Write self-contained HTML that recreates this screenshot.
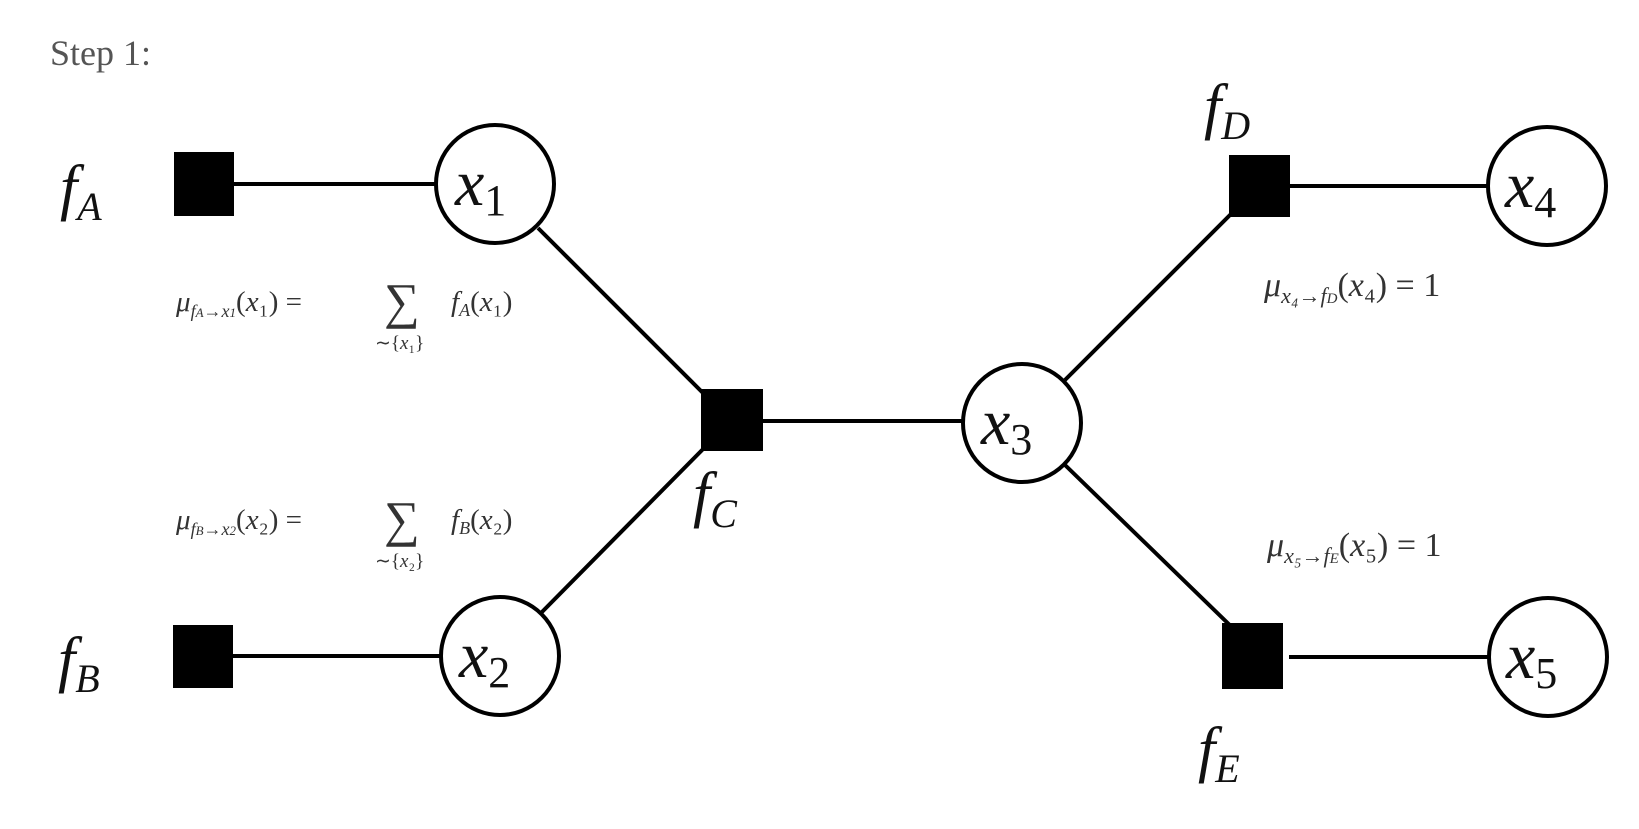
<!DOCTYPE html>
<html><head><style>
html,body{margin:0;padding:0;background:#fff;}
svg{display:block}
.m{font-family:"Liberation Serif",serif;font-style:italic;fill:#111}
.r{font-family:"Liberation Serif",serif;fill:#333}
</style></head><body>
<svg width="1639" height="829" viewBox="0 0 1639 829" xmlns="http://www.w3.org/2000/svg">
<text x="50" y="65" font-family="Liberation Serif, serif" font-size="36" fill="#555">Step 1:</text>
<g stroke="#000" stroke-width="4" fill="none">
<line x1="234" y1="184" x2="437" y2="184"/>
<line x1="233" y1="656" x2="440" y2="656"/>
<line x1="538" y1="228" x2="710" y2="400"/>
<line x1="540" y1="614" x2="712" y2="440"/>
<line x1="763" y1="421" x2="962" y2="421"/>
<line x1="1065" y1="380" x2="1240" y2="205"/>
<line x1="1065" y1="465" x2="1240" y2="635"/>
<line x1="1290" y1="186" x2="1489" y2="186"/>
<line x1="1289" y1="657" x2="1489" y2="657"/>
<circle cx="495" cy="184" r="59" fill="#fff"/>
<circle cx="500" cy="656" r="59" fill="#fff"/>
<circle cx="1022" cy="423" r="59" fill="#fff"/>
<circle cx="1547" cy="186" r="59" fill="#fff"/>
<circle cx="1548" cy="657" r="59" fill="#fff"/>
</g>
<g fill="#000">
<rect x="174" y="152" width="60" height="64"/>
<rect x="173" y="625" width="60" height="63"/>
<rect x="701" y="389" width="62" height="62"/>
<rect x="1229" y="155" width="61" height="62"/>
<rect x="1222" y="623" width="61" height="66"/>
</g>
<g class="m">
<text x="455" y="205" font-size="66">x<tspan font-size="44" font-style="normal" dy="10">1</tspan></text>
<text x="459" y="677" font-size="66">x<tspan font-size="44" font-style="normal" dy="10">2</tspan></text>
<text x="981" y="444" font-size="66">x<tspan font-size="44" font-style="normal" dy="10">3</tspan></text>
<text x="1505" y="207" font-size="66">x<tspan font-size="44" font-style="normal" dy="10">4</tspan></text>
<text x="1506" y="678" font-size="66">x<tspan font-size="44" font-style="normal" dy="10">5</tspan></text>
<text x="60" y="208" font-size="62">f<tspan font-size="40" dy="12">A</tspan></text>
<text x="58" y="680" font-size="62">f<tspan font-size="40" dy="12">B</tspan></text>
<text x="693" y="515" font-size="62">f<tspan font-size="40" dy="12">C</tspan></text>
<text x="1204" y="127" font-size="62">f<tspan font-size="40" dy="12">D</tspan></text>
<text x="1198" y="770" font-size="62">f<tspan font-size="40" dy="12">E</tspan></text>
</g>
<g class="r">
<text x="176" y="311" font-size="29"><tspan font-style="italic">μ</tspan><tspan font-size="18" font-style="italic" dy="6">f<tspan font-size="13">A</tspan>→x<tspan font-size="13">1</tspan></tspan><tspan dy="-6">(<tspan font-style="italic">x</tspan>₁) =</tspan></text>
<text x="384" y="318" font-size="50">∑</text>
<text x="375" y="349" font-size="19">∼{<tspan font-style="italic">x</tspan>₁}</text>
<text x="451" y="311" font-size="29"><tspan font-style="italic">f<tspan font-size="18" dy="5">A</tspan></tspan><tspan dy="-5">(<tspan font-style="italic">x</tspan>₁)</tspan></text>
<text x="176" y="529" font-size="29"><tspan font-style="italic">μ</tspan><tspan font-size="18" font-style="italic" dy="6">f<tspan font-size="13">B</tspan>→x<tspan font-size="13">2</tspan></tspan><tspan dy="-6">(<tspan font-style="italic">x</tspan>₂) =</tspan></text>
<text x="384" y="536" font-size="50">∑</text>
<text x="375" y="567" font-size="19">∼{<tspan font-style="italic">x</tspan>₂}</text>
<text x="451" y="529" font-size="29"><tspan font-style="italic">f<tspan font-size="18" dy="5">B</tspan></tspan><tspan dy="-5">(<tspan font-style="italic">x</tspan>₂)</tspan></text>
<text x="1264" y="296" font-size="34"><tspan font-style="italic">μ</tspan><tspan font-size="22" font-style="italic" dy="7">x₄→f<tspan font-size="15">D</tspan></tspan><tspan dy="-7">(<tspan font-style="italic">x</tspan>₄) = 1</tspan></text>
<text x="1267" y="556" font-size="34"><tspan font-style="italic">μ</tspan><tspan font-size="22" font-style="italic" dy="7">x₅→f<tspan font-size="15">E</tspan></tspan><tspan dy="-7">(<tspan font-style="italic">x</tspan>₅) = 1</tspan></text>
</g>
</svg>
</body></html>
